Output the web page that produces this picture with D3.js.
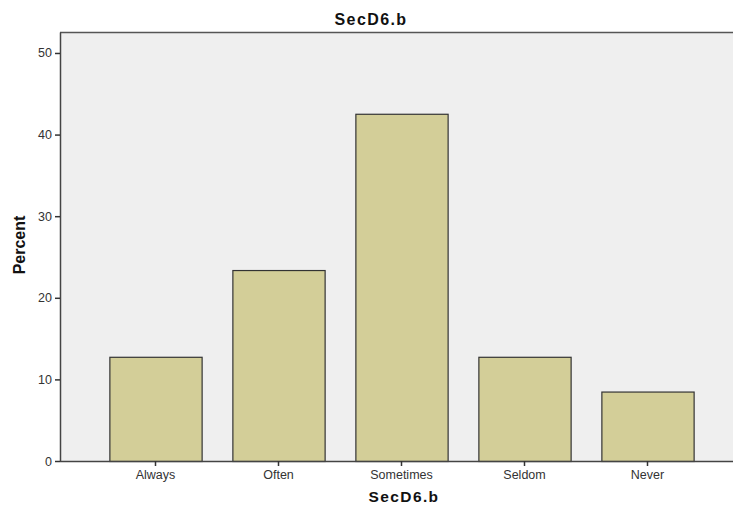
<!DOCTYPE html>
<html><head><meta charset="utf-8">
<script src="https://cdn.jsdelivr.net/npm/d3@7"></script>
<style>body{margin:0;background:#fff}svg{display:block;font-family:"Liberation Sans",Arial,sans-serif}</style>
</head><body><svg id="c" width="733" height="506"></svg>
<script>
const categories = ["Always", "Often", "Sometimes", "Seldom", "Never"];
const percents = [12.77, 23.40, 42.55, 12.77, 8.51];
const yTicks = [0, 10, 20, 30, 40, 50];
const chartTitle = "SecD6.b";
const xTitle = "SecD6.b";
const yTitle = "Percent";

const svg = d3.select("#c");
const L = 60, R = 733, T = 32, B = 461;
const y = d3.scaleLinear().domain([0, 52.57]).range([B, T]);
const x = d3.scaleBand().domain(categories).range([94, 709]).paddingInner(0.25).paddingOuter(0.125);

svg.append("rect").attr("x", L).attr("y", T).attr("width", R - L).attr("height", B - T).attr("fill", "#efefef");
svg.append("line").attr("x1", L).attr("x2", R).attr("y1", T + 0.5).attr("y2", T + 0.5).attr("stroke", "#555").attr("stroke-width", 1.3);

svg.selectAll("rect.bar").data(percents).enter().append("rect").attr("class", "bar")
  .attr("x", (d, i) => x(categories[i]) + 0.5)
  .attr("y", d => y(d) + 0.5)
  .attr("width", x.bandwidth())
  .attr("height", d => B - y(d))
  .attr("fill", "#d3ce98").attr("stroke", "#333").attr("stroke-width", 1.2);

const ya = svg.append("g").attr("transform", `translate(${L},0)`)
  .call(d3.axisLeft(y).tickValues(yTicks).tickSize(5).tickPadding(3).tickSizeOuter(0));
ya.select(".domain").attr("stroke", "#444").attr("stroke-width", 1.5);
ya.selectAll(".tick line").attr("stroke", "#333").attr("stroke-width", 1.5);
ya.selectAll(".tick text").attr("font-size", 12.5).attr("fill", "#333").attr("font-family", "Liberation Sans, Arial, sans-serif");

const xa = svg.append("g").attr("transform", `translate(0,${B})`)
  .call(d3.axisBottom(x).tickSize(5).tickPadding(4).tickSizeOuter(0));
xa.select(".domain").attr("d", `M${L},0.5H${R}`).attr("stroke", "#444").attr("stroke-width", 1.5);
xa.selectAll(".tick line").attr("stroke", "#333").attr("stroke-width", 1.5);
xa.selectAll(".tick text").attr("font-size", 12.5).attr("fill", "#333").attr("font-family", "Liberation Sans, Arial, sans-serif");

svg.append("text").attr("x", 371).attr("y", 25).attr("text-anchor", "middle")
  .attr("font-size", 16).attr("font-weight", "bold").attr("letter-spacing", 1.4).attr("fill", "#111").text(chartTitle);
svg.append("text").attr("x", 404).attr("y", 502).attr("text-anchor", "middle")
  .attr("font-size", 15.5).attr("font-weight", "bold").attr("letter-spacing", 1.4).attr("fill", "#111").text(xTitle);
svg.append("text").attr("transform", "translate(25,245) rotate(-90)").attr("text-anchor", "middle")
  .attr("font-size", 16).attr("font-weight", "bold").attr("fill", "#111").text(yTitle);
</script></body></html>
